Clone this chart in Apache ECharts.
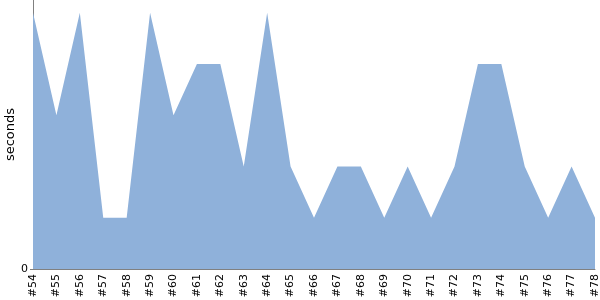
<!DOCTYPE html>
<html><head><meta charset="utf-8">
<script src="https://cdn.jsdelivr.net/npm/echarts@6/dist/echarts.min.js"></script>
<style>html,body{margin:0;padding:0;background:#fff}#c{width:600px;height:300px}</style>
</head><body><div id="c"></div>
<script>
const categories = ['#54','#55','#56','#57','#58','#59','#60','#61','#62','#63','#64','#65','#66','#67','#68','#69','#70','#71','#72','#73','#74','#75','#76','#77','#78'];
const seconds = [5,3,5,1,1,5,3,4,4,2,5,2,1,2,2,1,2,1,2,4,4,2,1,2,1];
const yMax = 5.25;
const chart = echarts.init(document.getElementById('c'), null, {renderer:'canvas'});
chart.setOption({
  animation:false,
  grid:{left:33,right:5,top:0,bottom:31,containLabel:false,outerBoundsMode:'none'},
  xAxis:{type:'category',data:categories,boundaryGap:false,
    axisLine:{lineStyle:{color:'#808080',width:1}},
    axisTick:{show:false},
    axisLabel:{rotate:90,color:'#000',fontSize:11,fontFamily:'DejaVu Sans',margin:5,interval:0},
    splitLine:{show:false}},
  yAxis:{type:'value',min:0,max:yMax,interval:yMax,name:'seconds',nameLocation:'middle',nameGap:16,
    nameMoveOverlap:false,
    nameTextStyle:{color:'#000',fontSize:13,fontFamily:'DejaVu Sans'},
    axisLine:{show:true,lineStyle:{color:'#808080',width:1}},
    axisTick:{show:true,length:3,lineStyle:{color:'#808080'}},
    axisLabel:{showMaxLabel:false,color:'#000',fontSize:11,fontFamily:'DejaVu Sans',margin:5},
    splitLine:{show:false}},
  series:[{type:'line',data:seconds,symbol:'none',lineStyle:{width:0},
    areaStyle:{color:'#8fb1da',opacity:1}}]
});
</script></body></html>
